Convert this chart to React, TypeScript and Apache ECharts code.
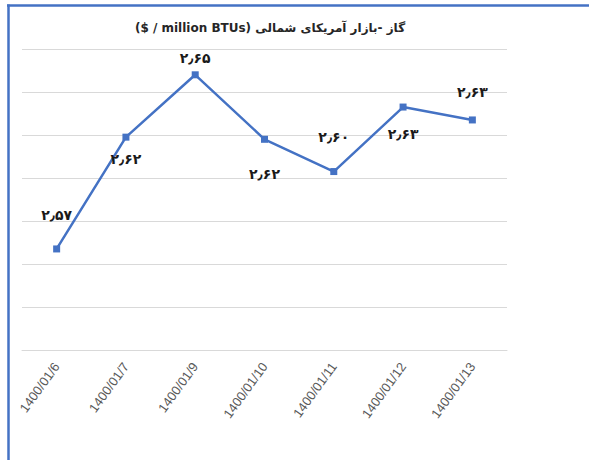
import React, { useEffect, useRef } from "react";
import * as echarts from "echarts";

const categories = [
  "1400/01/6",
  "1400/01/7",
  "1400/01/9",
  "1400/01/10",
  "1400/01/11",
  "1400/01/12",
  "1400/01/13",
];
const values = [2.567, 2.619, 2.648, 2.618, 2.603, 2.633, 2.627];
const labelPositions = ["top", "bottom", "top", "bottom", "top", "bottom", "top"];
const labelDistances = [23, 11, 6, 24, 24, 16, 17];

const titleText = "($ / million BTUs) گاز -بازار آمریکای شمالی";

const toPersian = (v: number) =>
  v
    .toFixed(2)
    .replace(".", "٫")
    .replace(/[0-9]/g, (d) => "۰۱۲۳۴۵۶۷۸۹"[Number(d)]);

export default function App() {
  const ref = useRef<HTMLDivElement>(null);
  useEffect(() => {
    document.documentElement.style.overflow = "hidden";
    document.body.style.margin = "0";
    if (!ref.current) return;
    const chart = echarts.init(ref.current, null, { renderer: "svg" });
    chart.setOption({
      animation: false,
      backgroundColor: "#ffffff",
      graphic: [
        {
          type: "line",
          shape: { x1: 8.5, y1: 4.5, x2: 8.5, y2: 470 },
          style: { stroke: "#4472C4", lineWidth: 2.5 },
          silent: true,
          z: 100,
        },
        {
          type: "line",
          shape: { x1: 7, y1: 5.5, x2: 600, y2: 5.5 },
          style: { stroke: "#4472C4", lineWidth: 2.5 },
          silent: true,
          z: 100,
        },
        {
          type: "text",
          x: 270,
          y: 28,
          style: {
            text: titleText,
            fill: "#262626",
            font: "bold 12px 'DejaVu Sans'",
            align: "center",
            verticalAlign: "middle",
          },
        },
      ],
      grid: { left: 22, right: 82, top: 49, bottom: 110 },
      xAxis: {
        type: "category",
        data: categories,
        boundaryGap: true,
        axisLine: { show: true, lineStyle: { color: "#d9d9d9", width: 1 } },
        axisTick: { show: false },
        axisLabel: {
          rotate: 54,
          color: "#595959",
          fontSize: 13,
          fontFamily: "'Liberation Sans', Arial",
          margin: 14,
        },
      },
      yAxis: {
        type: "value",
        min: 2.52,
        max: 2.66,
        interval: 0.02,
        axisLabel: { show: false },
        axisLine: { show: false },
        axisTick: { show: false },
        splitLine: { lineStyle: { color: "#d9d9d9", width: 1 } },
      },
      series: [
        {
          type: "line",
          data: values.map((v, i) => ({
            value: v,
            label: {
              show: true,
              position: labelPositions[i],
              distance: labelDistances[i],
            },
          })),
          symbol: "rect",
          symbolSize: 7,
          lineStyle: { color: "#4472C4", width: 2.5 },
          itemStyle: { color: "#4472C4" },
          label: {
            show: true,
            formatter: (p: any) => toPersian(p.value),
            color: "#1a1a1a",
            fontWeight: "bold",
            fontSize: 14,
            fontFamily: "'DejaVu Sans'",
          },
        },
      ],
    });
    return () => chart.dispose();
  }, []);
  return (
    <div
      ref={ref}
      style={{ position: "absolute", left: 0, top: 0, width: 589, height: 460 }}
    />
  );
}
